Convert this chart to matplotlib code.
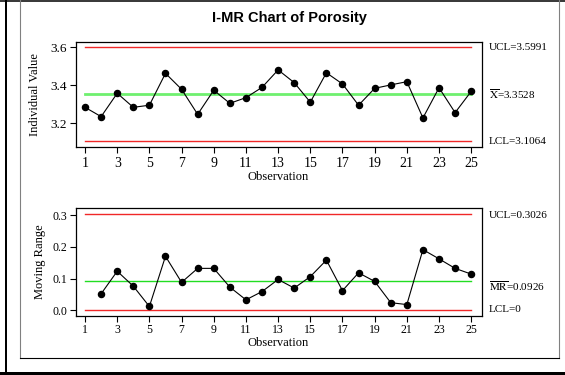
import numpy as np
import matplotlib
matplotlib.use("Agg")
import matplotlib.pyplot as plt
from matplotlib.lines import Line2D
from matplotlib.patches import Rectangle

# values
obs = list(range(1, 26))
individual = [3.284, 3.235, 3.358, 3.284, 3.295, 3.463, 3.379, 3.247, 3.374, 3.305,
              3.335, 3.389, 3.481, 3.414, 3.311, 3.466, 3.407, 3.295, 3.384, 3.402,
              3.419, 3.228, 3.387, 3.256, 3.368]
mr_obs = list(range(2, 26))
moving_range = [0.052, 0.123, 0.076, 0.012, 0.170, 0.088, 0.132, 0.132, 0.073, 0.033,
                0.059, 0.097, 0.070, 0.106, 0.158, 0.062, 0.118, 0.091, 0.024, 0.018,
                0.191, 0.162, 0.132, 0.114]
i_limits = {"UCL": 3.5991, "X": 3.3528, "LCL": 3.1064}
mr_limits = {"UCL": 0.3026, "MR": 0.0926, "LCL": 0.0}

plt.rcParams["font.family"] = ["Liberation Serif", "DejaVu Serif"]
plt.rcParams["mathtext.fontset"] = "stix"

W, H = 565, 375
fig = plt.figure(figsize=(W / 100, H / 100), dpi=100)

def fx(px):
    return px / W

def fy(py):
    return 1 - py / H

red = "#f02828"

# ---- I chart
ax1 = fig.add_axes([fx(75.7), fy(147), fx(481.5) - fx(75.7), fy(42) - fy(147)])
ax1.plot([1, 25], [i_limits["UCL"]] * 2, color=red, lw=1.0)
ax1.plot([1, 25], [i_limits["LCL"]] * 2, color=red, lw=1.0)
ax1.plot([1, 25], [i_limits["X"]] * 2, color="#6ff06f", lw=2.0)
ax1.plot(obs, individual, color="black", lw=0.8, marker="o", ms=4.4)
ax1.set_xlim(0.42, 25.64)
ax1.set_ylim(3.075, 3.628)
ax1.set_yticks([3.2, 3.4, 3.6])
ax1.set_xticks(range(1, 26, 2))
ax1.tick_params(axis="x", labelsize=10, length=4, width=0.8, pad=3)
ax1.tick_params(axis="y", labelsize=9.5, length=4, width=0.8, pad=2)

# ---- MR chart
ax2 = fig.add_axes([fx(75.7), fy(315.7), fx(481.5) - fx(75.7), fy(207.7) - fy(315.7)])
ax2.plot([1, 25], [mr_limits["UCL"]] * 2, color=red, lw=1.0)
ax2.plot([1, 25], [mr_limits["LCL"]] * 2, color=red, lw=1.0)
ax2.plot([1, 25], [mr_limits["MR"]] * 2, color="#22dd22", lw=1.0)
ax2.plot(mr_obs, moving_range, color="black", lw=0.8, marker="o", ms=4.4)
ax2.set_xlim(0.42, 25.64)
ax2.set_ylim(-0.017, 0.323)
ax2.set_yticks([0.0, 0.1, 0.2, 0.3])
ax2.set_yticklabels(["0.0", "0.1", "0.2", "0.3"])
ax2.set_xticks(range(1, 26, 2))
ax2.tick_params(axis="both", labelsize=8.5, length=4, width=0.8, pad=2)

for ax in (ax1, ax2):
    for s in ax.spines.values():
        s.set_linewidth(0.9)

# limit labels on the right
tx = fx(489)
fig.text(tx, fy(47.5), "UCL=3.5991", fontsize=8, va="center")
fig.text(tx, fy(94), r"$\overline{\mathrm{X}}$=3.3528", fontsize=8, va="center")
fig.text(tx, fy(141.5), "LCL=3.1064", fontsize=8, va="center")
fig.text(tx, fy(216), "UCL=0.3026", fontsize=8, va="center")
fig.text(tx, fy(286), r"$\overline{\mathrm{MR}}$=0.0926", fontsize=8, va="center")
fig.text(tx, fy(310), "LCL=0", fontsize=8, va="center")

# axis titles
fig.text(fx(35), fy(95), "Individual Value", rotation=90, fontsize=9, ha="center", va="center")
fig.text(fx(40), fy(262), "Moving Range", rotation=90, fontsize=9, ha="center", va="center")
fig.text(fx(278.6), fy(177), "Observation", fontsize=9, ha="center", va="center")
fig.text(fx(278.6), fy(343), "Observation", fontsize=9, ha="center", va="center")

fig.text(fx(289.5), fy(18), "I-MR Chart of Porosity", fontsize=10.5, fontweight="bold",
         family="Liberation Sans", ha="center", va="center")

# frame around the figure
fig.add_artist(Line2D([0, 1], [fy(0.7)] * 2, color="black", lw=1.1))
fig.add_artist(Rectangle((fx(5), 0), fx(2.4), 1, color="black", lw=0))
fig.add_artist(Rectangle((0, 0), 1, fy(371.7), color="black", lw=0))
fig.add_artist(Line2D([fx(20), fx(20)], [fy(0), fy(358.3)], color="#808080", lw=0.8))
fig.add_artist(Line2D([fx(559), fx(559)], [fy(0), fy(358.3)], color="#808080", lw=0.8))
fig.add_artist(Line2D([fx(20), fx(559)], [fy(358.3)] * 2, color="black", lw=0.8))

fig.savefig("out.png", dpi=100)
